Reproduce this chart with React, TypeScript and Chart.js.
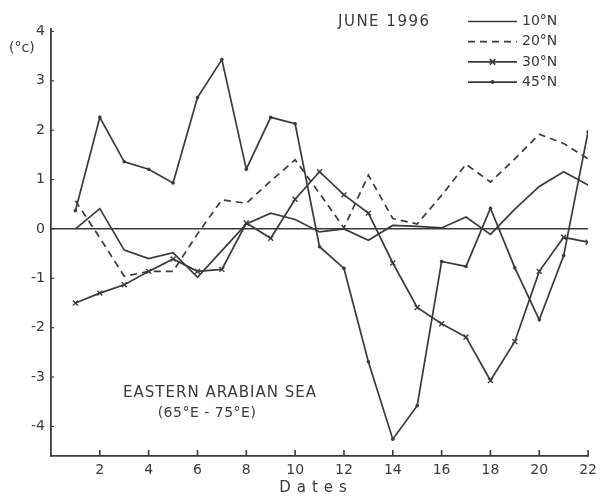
import { useEffect, useRef } from 'react';
import { Chart, registerables } from 'chart.js';

Chart.register(...registerables);

const days = [1, 2, 3, 4, 5, 6, 7, 8, 9, 10, 11, 12, 13, 14, 15, 16, 17, 18, 19, 20, 21, 22];
const t10N = [0.0, 0.41, -0.43, -0.6, -0.48, -0.98, -0.44, 0.1, 0.32, 0.19, -0.06, 0.0, -0.23, 0.07, 0.05, 0.02, 0.24, -0.11, 0.4, 0.86, 1.16, 0.89];
const t20N = [0.57, -0.18, -0.96, -0.86, -0.86, -0.1, 0.59, 0.52, 0.97, 1.4, 0.72, 0.02, 1.09, 0.21, 0.1, 0.68, 1.31, 0.95, 1.42, 1.92, 1.73, 1.42];
const t30N = [-1.5, -1.3, -1.13, -0.86, -0.61, -0.86, -0.82, 0.12, -0.19, 0.6, 1.16, 0.69, 0.32, -0.69, -1.59, -1.92, -2.19, -3.07, -2.28, -0.86, -0.17, -0.27];
const t45N = [0.37, 2.26, 1.36, 1.21, 0.93, 2.66, 3.43, 1.21, 2.26, 2.13, -0.36, -0.8, -2.69, -4.26, -3.58, -0.66, -0.76, 0.42, -0.79, -1.84, -0.54, 1.97];
const seriesLabels = ['10°N', '20°N', '30°N', '45°N'];
const xTickValues = [2, 4, 6, 8, 10, 12, 14, 16, 18, 20, 22];
const yTickValues = [-4, -3, -2, -1, 0, 1, 2, 3, 4];
const chartTitle = 'JUNE 1996';
const regionTitle = 'EASTERN ARABIAN SEA';
const regionSub = '(65°E - 75°E)';
const yUnit = '(°c)';
const xTitle = 'Dates';

const INK = '#3a3a3a';
const FONT = '"DejaVu Sans", sans-serif';

const toPoints = (vals: number[]) => vals.map((v, i) => ({ x: days[i], y: v }));

const annotate = {
  id: 'annotate',
  afterDraw(chart: any) {
    const ctx = chart.ctx as CanvasRenderingContext2D;
    const xs = chart.scales.x;
    const ys = chart.scales.y;
    ctx.save();
    ctx.strokeStyle = INK;
    ctx.fillStyle = INK;
    ctx.lineWidth = 1.6;
    // inward tick marks
    xs.ticks.forEach((t: any) => {
      const px = xs.getPixelForValue(t.value);
      ctx.beginPath();
      ctx.moveTo(px, ys.bottom);
      ctx.lineTo(px, ys.bottom - 6);
      ctx.stroke();
    });
    ctx.lineWidth = 1.2;
    ys.ticks.forEach((t: any) => {
      const py = ys.getPixelForValue(t.value);
      ctx.beginPath();
      ctx.moveTo(xs.left, py);
      ctx.lineTo(xs.left + 3, py);
      ctx.stroke();
    });

    ctx.textBaseline = 'middle';
    // unit label
    ctx.font = `14px ${FONT}`;
    ctx.textAlign = 'left';
    ctx.fillText(yUnit, 9, 48);

    // title
    (ctx as any).letterSpacing = '1.5px';
    ctx.font = `15px ${FONT}`;
    ctx.fillText(chartTitle, 338, 22);

    // region annotation
    (ctx as any).letterSpacing = '1px';
    ctx.textAlign = 'center';
    ctx.font = `15px ${FONT}`;
    ctx.fillText(regionTitle, 220, 393);
    (ctx as any).letterSpacing = '0.5px';
    ctx.font = `14px ${FONT}`;
    ctx.fillText(regionSub, 207, 413);

    // x title
    (ctx as any).letterSpacing = '6px';
    ctx.font = `15px ${FONT}`;
    ctx.fillText(xTitle, 316, 488);
    (ctx as any).letterSpacing = '0px';

    // legend
    const lx0 = 468;
    const lx1 = 517;
    chart.data.datasets.forEach((ds: any, i: number) => {
      const y = 21.5 + i * 20.2;
      ctx.lineWidth = ds.borderWidth;
      ctx.strokeStyle = ds.borderColor;
      ctx.setLineDash(ds.borderDash || []);
      ctx.beginPath();
      ctx.moveTo(lx0, y);
      ctx.lineTo(lx1, y);
      ctx.stroke();
      ctx.setLineDash([]);
      const mx = (lx0 + lx1) / 2;
      if (ds.pointStyle === 'crossRot') {
        const r = 2.8;
        ctx.beginPath();
        ctx.moveTo(mx - r, y - r);
        ctx.lineTo(mx + r, y + r);
        ctx.moveTo(mx - r, y + r);
        ctx.lineTo(mx + r, y - r);
        ctx.stroke();
      } else if (ds.pointRadius > 0) {
        ctx.beginPath();
        ctx.arc(mx, y, 2, 0, Math.PI * 2);
        ctx.fill();
      }
      ctx.font = `14px ${FONT}`;
      ctx.textAlign = 'left';
      ctx.fillStyle = INK;
      ctx.fillText(ds.label, 522, y);
    });
    ctx.restore();
  },
};

export default function App() {
  const ref = useRef<HTMLCanvasElement | null>(null);
  useEffect(() => {
    if (!ref.current) return;
    const common = { borderColor: INK, backgroundColor: INK, borderWidth: 1.7, tension: 0, fill: false };
    const chart = new Chart(ref.current, {
      type: 'line',
      data: {
        datasets: [
          { ...common, label: seriesLabels[0], data: toPoints(t10N), pointRadius: 0 },
          { ...common, label: seriesLabels[1], data: toPoints(t20N), pointRadius: 0, borderDash: [7, 5] },
          { ...common, label: seriesLabels[2], data: toPoints(t30N), pointStyle: 'crossRot', pointRadius: 3.5, pointBorderWidth: 1.4 },
          { ...common, label: seriesLabels[3], data: toPoints(t45N), pointStyle: 'circle', pointRadius: 1.8, pointBorderWidth: 0 },
        ] as any,
      },
      options: {
        animation: false,
        responsive: false,
        devicePixelRatio: 1,
        layout: { padding: { top: 29, right: 10, left: 0, bottom: 0 } },
        plugins: { legend: { display: false }, tooltip: { enabled: false }, title: { display: false } },
        scales: {
          x: {
            type: 'linear',
            min: 0,
            max: 22,
            afterBuildTicks: (s: any) => { s.ticks = xTickValues.map((v) => ({ value: v })); },
            afterFit: (s: any) => { s.height = 41; },
            grid: { display: false, drawTicks: false },
            border: { display: true, color: INK, width: 1.8 },
            ticks: { color: INK, font: { family: FONT, size: 14 }, padding: 6, maxRotation: 0 },
          },
          y: {
            type: 'linear',
            min: -4.6,
            max: 4.05,
            afterBuildTicks: (s: any) => { s.ticks = yTickValues.map((v) => ({ value: v })); },
            afterFit: (s: any) => { s.width = 51; },
            grid: {
              drawTicks: false,
              color: (c: any) => (c.tick && c.tick.value === 0 ? INK : 'rgba(0,0,0,0)'),
              lineWidth: 1.6,
            },
            border: { display: true, color: INK, width: 1.8 },
            ticks: { color: INK, font: { family: FONT, size: 14 }, padding: 6 },
          },
        },
      } as any,
      plugins: [annotate],
    });
    return () => chart.destroy();
  }, []);
  return (
    <div style={{ position: 'absolute', left: 0, top: 0, width: 603, height: 497, background: '#fff' }}>
      <canvas ref={ref} width={603} height={497} style={{ display: 'block', width: 603, height: 497 }} />
    </div>
  );
}
